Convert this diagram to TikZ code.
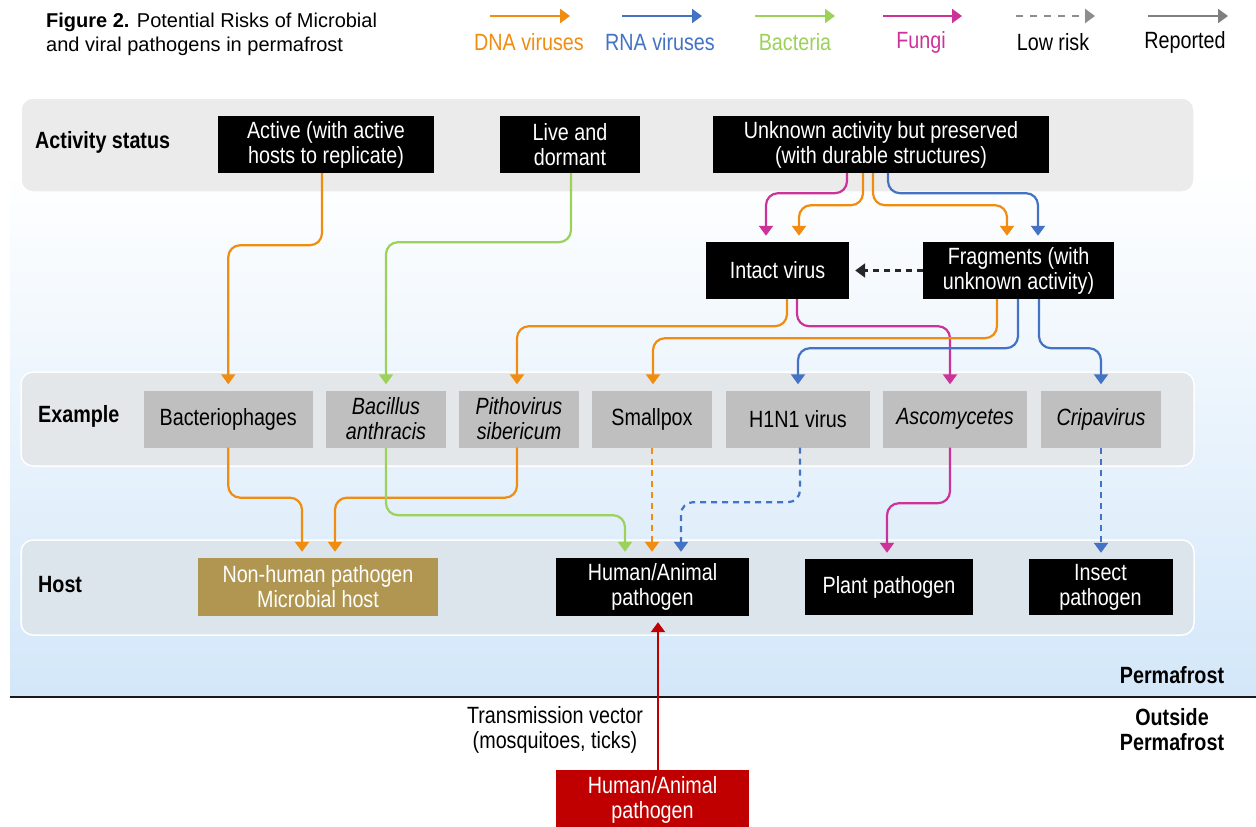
\documentclass[tikz,border=0pt]{standalone}
\usepackage{fontspec}
\setmainfont{Liberation Sans}[FakeStretch=0.84]
\newfontfamily\widefont{Liberation Sans}
\usetikzlibrary{arrows.meta}
\definecolor{cOr}{HTML}{F08C10}
\definecolor{cBl}{HTML}{4472C4}
\definecolor{cGn}{HTML}{9CD15A}
\definecolor{cMg}{HTML}{CC3399}
\definecolor{cGy}{HTML}{808080}
\definecolor{cRed}{HTML}{C00000}
\definecolor{cGold}{HTML}{B09650}
\definecolor{cEx}{HTML}{BFBFBF}
\definecolor{pA}{HTML}{EBEBEB}
\definecolor{pB}{HTML}{E4E7EA}
\definecolor{pC}{HTML}{DCE4EC}
\definecolor{skyB}{HTML}{D3E7F9}
\newcommand\nf{\fontsize{23.5}{25}\selectfont}
\newcommand\blf{\fontsize{23.5}{25}\selectfont\bfseries}
\tikzset{
  conn/.style={line width=2.2pt, rounded corners=12pt, -{Triangle[width=14pt,length=10pt]}, shorten >=6pt},
  dna/.style={conn, draw=cOr},
  rna/.style={conn, draw=cBl},
  bac/.style={conn, draw=cGn},
  fun/.style={conn, draw=cMg},
  lowrisk/.style={dash pattern=on 6pt off 5pt},
  legarr/.style={line width=2.2pt, -{Triangle[width=14pt,length=10pt]}},
  bbox/.style={fill=black, text=white, align=center, inner sep=0pt, font=\nf, minimum height=57pt},
  gbox/.style={fill=cEx, text=black, align=center, inner sep=0pt, font=\nf, minimum height=57pt},
  panel/.style={rounded corners=12pt, draw=white, line width=1.5pt},
  rowlab/.style={anchor=west, inner sep=0pt, font=\blf},
  leglab/.style={inner sep=0pt, font=\nf},
}
\begin{document}
\begin{tikzpicture}[x=1pt,y=-1pt]
\useasboundingbox (0,0) rectangle (1256,827);
\fill[white] (0,0) rectangle (1256,827);
% sky gradient (permafrost region)
\fill[top color=white, bottom color=skyB] (10,170) rectangle (1256,697);
\draw[line width=2pt, black!90] (10,697) -- (1256,697);

% panels
\fill[pA, panel] (21,98) rectangle (1194,192);
\fill[pB, panel] (21,372) rectangle (1194,466);
\fill[pC, panel] (21,540) rectangle (1194,635);

% title
\node[anchor=west, align=left, inner sep=0pt, font=\widefont\fontsize{20}{24}\selectfont] (title) at (46,34)
  {\textbf{Figure 2.} Potential Risks of Microbial\\and viral pathogens in permafrost};

% legend
\node[leglab, text=cOr] (lg1) at (529,42) {DNA viruses};
\node[leglab, text=cBl] (lg2) at (660,42) {RNA viruses};
\node[leglab, text=cGn] (lg3) at (795,42) {Bacteria};
\node[leglab, text=cMg] (lg4) at (921,42) {Fungi};
\node[leglab, text=black] (lg5) at (1053,42) {Low risk};
\node[leglab, text=black] (lg6) at (1185,42) {Reported};
\coordinate (l1a) at (490,16); \coordinate (l1b) at (570,16);
\coordinate (l2a) at (622,16); \coordinate (l2b) at (702,16);
\coordinate (l3a) at (755,16); \coordinate (l3b) at (835,16);
\coordinate (l4a) at (883,16); \coordinate (l4b) at (962,16);
\coordinate (l5a) at (1016,16); \coordinate (l5b) at (1095,16);
\coordinate (l6a) at (1148,16); \coordinate (l6b) at (1228,16);
\draw[legarr, cOr] (l1a) -- (l1b);
\draw[legarr, cBl] (l2a) -- (l2b);
\draw[legarr, cGn] (l3a) -- (l3b);
\draw[legarr, cMg] (l4a) -- (l4b);
\draw[legarr, cGy!90, dash pattern=on 7pt off 7pt] (l5a) -- (l5b);
\draw[legarr, cGy] (l6a) -- (l6b);

% row labels
\node[rowlab] (rl1) at (35,142) {Activity status};
\node[rowlab] (rl2) at (38,416) {Example};
\node[rowlab] (rl3) at (38,585) {Host};

% activity status row
\node[bbox, minimum width=216pt] (act) at (326,144.5) {Active (with active\\hosts to replicate)};
\node[bbox, minimum width=140pt] (live) at (570,144.5) {Live and\\dormant};
\node[bbox, minimum width=336pt] (unk) at (881,144.5) {Unknown activity but preserved\\(with durable structures)};
\node[bbox, minimum width=143pt] (intact) at (777.5,270.5) {Intact virus};
\node[bbox, minimum width=191pt] (frag) at (1018.5,270.5) {Fragments (with\\unknown activity)};

% example row
\node[gbox, minimum width=168.5pt] (bph) at (228.25,419) {Bacteriophages};
\node[gbox, minimum width=120pt] (bacl) at (386,419) {\itshape Bacillus\\\itshape anthracis};
\node[gbox, minimum width=120pt] (pit) at (519,419) {\itshape Pithovirus\\\itshape sibericum};
\node[gbox, minimum width=120pt] (spx) at (652,419) {Smallpox};
\node[gbox, minimum width=144pt] (h1n1) at (798,419) {H1N1 virus};
\node[gbox, minimum width=144pt] (asc) at (955,419) {\itshape Ascomycetes};
\node[gbox, minimum width=120pt] (cri) at (1101,419) {\itshape Cripavirus};

% host row
\node[bbox, fill=cGold, minimum width=240pt, minimum height=58pt] (nonh) at (318,587) {Non-human pathogen\\Microbial host};
\node[bbox, minimum width=193pt, minimum height=58pt] (hum) at (652.5,587) {Human/Animal\\pathogen};
\node[bbox, minimum width=168pt, minimum height=56pt] (plant) at (889,587) {Plant pathogen};
\node[bbox, minimum width=144pt, minimum height=56pt] (insect) at (1100.5,587) {Insect\\pathogen};

% outside
\node[bbox, fill=cRed, minimum width=193pt, minimum height=60pt] (red) at (652.5,800) {Human/Animal\\pathogen};
\node[align=center, inner sep=0pt, font=\nf] (tv) at (555,730) {Transmission vector\\(mosquitoes, ticks)};
\node[align=center, inner sep=0pt, font=\blf] (pf) at (1172,675) {Permafrost};
\node[align=center, inner sep=0pt, font=\blf] (opf) at (1172,730) {Outside\\Permafrost};

% activity -> example / intermediate
\draw[dna] ([xshift=-4pt]act.south) -- ++(0,72) -| (bph.north);
\draw[bac] ([xshift=1pt]live.south) -- ++(0,69) -| (bacl.north);
\draw[fun] ([xshift=-34pt]unk.south) -- ++(0,20) -| ([xshift=-11.5pt]intact.north);
\draw[dna] ([xshift=-18pt]unk.south) -- ++(0,32) -| ([xshift=21.5pt]intact.north);
\draw[dna] ([xshift=-8pt]unk.south) -- ++(0,32) -| ([xshift=-11.5pt]frag.north);
\draw[rna] ([xshift=7pt]unk.south) -- ++(0,20) -| ([xshift=19.5pt]frag.north);
\draw[conn, draw=black!85, lowrisk] (frag.west) -- (intact.east);

% intermediate -> example
\draw[dna] ([xshift=9.5pt]intact.south) -- ++(0,27) -| ([xshift=-2pt]pit.north);
\draw[fun] ([xshift=19.5pt]intact.south) -- ++(0,27) -| ([xshift=-5pt]asc.north);
\draw[dna] ([xshift=-21.5pt]frag.south) -- ++(0,39) -| ([xshift=1pt]spx.north);
\draw[rna] ([xshift=-0.5pt]frag.south) -- ++(0,49) -| (h1n1.north);
\draw[rna] ([xshift=20.5pt]frag.south) -- ++(0,49) -| (cri.north);

% example -> host
\draw[dna] (bph.south) -- ++(0,50) -| ([xshift=-16pt]nonh.north);
\draw[dna] ([xshift=-2pt]pit.south) -- ++(0,50) -| ([xshift=17pt]nonh.north);
\draw[bac] (bacl.south) -- ++(0,67.5) -| ([xshift=-27.5pt]hum.north);
\draw[dna, lowrisk] (spx.south) -- (spx.south |- hum.north);
\draw[rna, lowrisk] ([xshift=2pt]h1n1.south) -- ++(0,54.5) -| ([xshift=28.5pt]hum.north);
\draw[fun] ([xshift=-5pt]asc.south) -- ++(0,55.5) -| ([xshift=-2pt]plant.north);
\draw[rna, lowrisk] (cri.south) -- (cri.south |- insect.north);

% transmission
\draw[conn, draw=cRed] ([xshift=5.5pt]red.north) -- ([xshift=5.5pt]hum.south);
\end{tikzpicture}
\end{document}
